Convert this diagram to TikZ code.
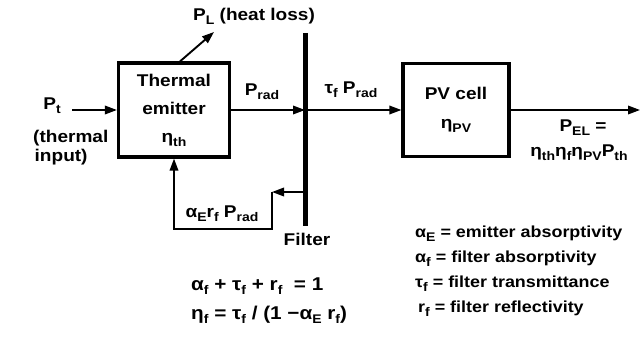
\documentclass[tikz,border=0pt]{standalone}
\usepackage{fontspec}
\setmainfont{Liberation Sans}[FakeStretch=1.12]
\usetikzlibrary{arrows.meta}
\newcommand\lsub[1]{\raisebox{-4pt}{\fontsize{12.5}{12.5}\selectfont #1}}
\begin{document}
\begin{tikzpicture}[x=1pt,y=-1pt,
  every node/.style={font=\fontsize{17}{28}\selectfont\bfseries, inner sep=0pt},
  blockbox/.style={draw, line width=3.2pt, align=center},
  arr/.style={line width=1.9pt, -{Triangle[length=12pt,width=8.5pt]}},
  filterline/.style={line width=5pt},
  lbl/.style={anchor=west},
  legend/.style={anchor=west, font=\fontsize{16}{18}\selectfont\bfseries},
  formula/.style={anchor=west, font=\fontsize{18.5}{20}\selectfont\bfseries}]
\useasboundingbox (0,0) rectangle (640,337);
% blocks
\node[blockbox, minimum width=111pt, minimum height=94pt] (emitter) at (174,110) {Thermal\\emitter\\η\lsub{th}};
\node[blockbox, minimum width=106pt, minimum height=93pt] (pv) at (456,110) {PV cell\\[1pt]η\lsub{PV}};
% filter
\coordinate (ftop) at (305,33);
\coordinate (fbot) at (305,226);
\draw[filterline] (ftop) -- (fbot);
\coordinate (fmid) at (305,110);
\coordinate (fback) at (305,192);
\coordinate (fbcorner) at (272,192);
\coordinate (fbbot) at (272,229);
% input
\node (pt) at (52,106) {P\lsub{t}};
\node (ptdesc) at (33,148) [anchor=west, align=left, font=\fontsize{17}{19}\selectfont\bfseries] {(thermal\\\hspace*{1.5pt}input)};
\coordinate (ptstart) at (72,110);
\draw[arr] (ptstart) -- (emitter.west);
% heat loss
\coordinate (pltip) at (214,32);
\draw[arr] ([xshift=6pt]emitter.north) -- (pltip);
\node (pl) at (254,16) {P\lsub{L} (heat loss)};
% radiation
\draw[arr] (emitter.east) -- (fmid);
\node (prad) at (262,92) {P\lsub{rad}};
\draw[arr] (fmid) -- (pv.west);
\node (tprad) at (351,90) {τ\lsub{f} P\lsub{rad}};
% output
\coordinate (out) at (640,110);
\draw[arr] (pv.east) -- (out);
\node (pel) at (583,128) {P\lsub{EL} =};
\node (peleq) at (579,153) {η\lsub{th}η\lsub{f}η\lsub{PV}P\lsub{th}};
% feedback
\draw[arr] (fback) -- (fbcorner);
\draw[arr] (fbcorner) -- (fbbot) -| (emitter.south);
\node (fblabel) at (222,214) {α\lsub{E}r\lsub{f} P\lsub{rad}};
\node (filterlbl) at (307,239) {Filter};
% relations
\node[formula] (rel1) at (191,286) {α\lsub{f} + τ\lsub{f} + r\lsub{f} \ = 1};
\node[formula] (rel2) at (191,315) {η\lsub{f} = τ\lsub{f} / (1 −α\lsub{E} r\lsub{f})};
% legend
\node[legend] (lg1) at (415,234) {α\lsub{E} = emitter absorptivity};
\node[legend] (lg2) at (415,259) {α\lsub{f} = filter absorptivity};
\node[legend] (lg3) at (415,284) {τ\lsub{f} = filter transmittance};
\node[legend] (lg4) at (418,309) {r\lsub{f} = filter reflectivity};
\end{tikzpicture}
\end{document}
